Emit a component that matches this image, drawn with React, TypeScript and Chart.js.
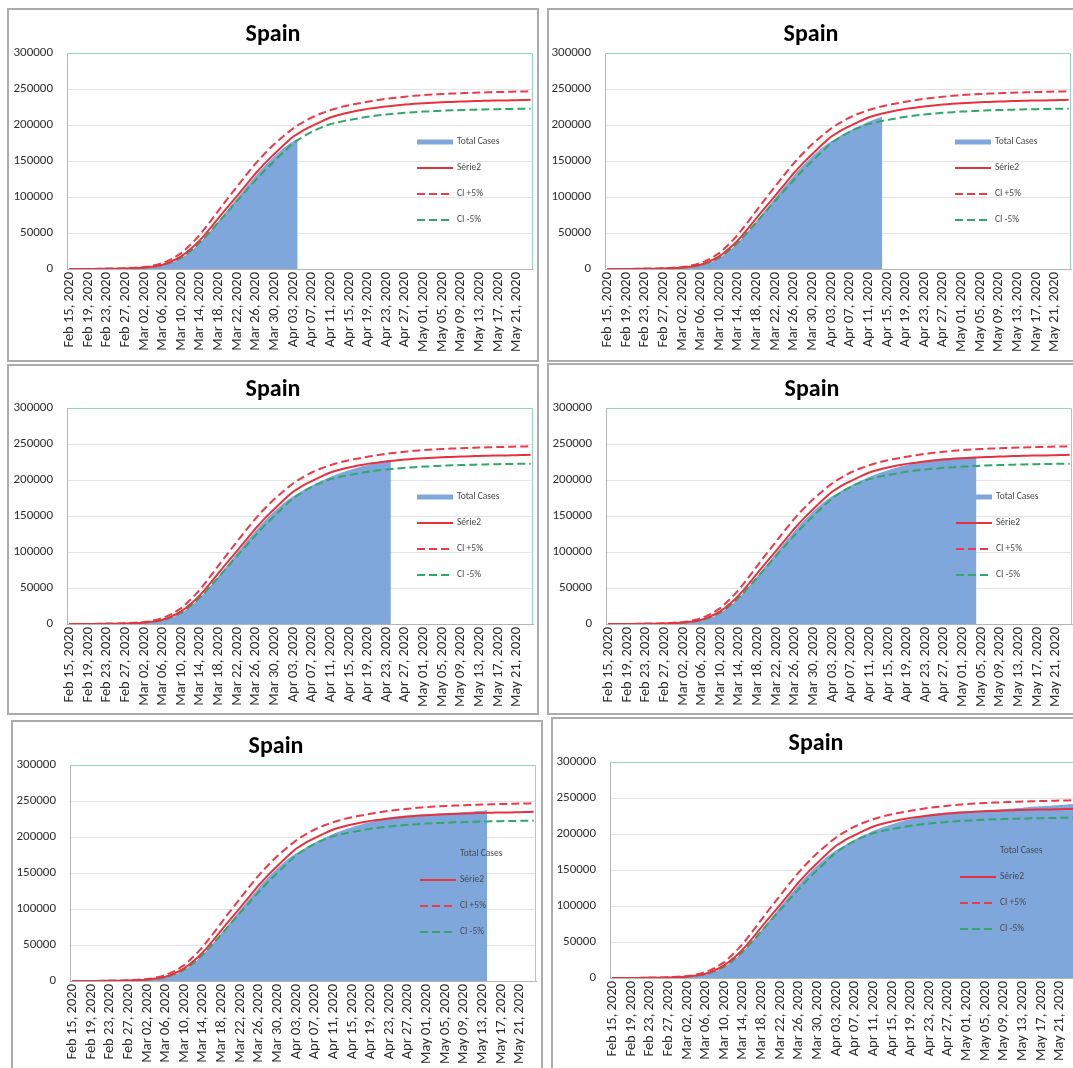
import React, { useEffect, useRef } from "react";
import { Chart, registerables } from "chart.js";

Chart.register(...registerables);

// ---------- data ----------
const MONTHS = ["Jan", "Feb", "Mar", "Apr", "May", "Jun"];
const START_DATE = Date.UTC(2020, 1, 15); // Feb 15, 2020
const DAY_COUNT = 100; // Feb 15 .. May 24, 2020

function buildCategories(): string[] {
  const out: string[] = [];
  for (let i = 0; i < DAY_COUNT; i++) {
    const d = new Date(START_DATE + i * 86400000);
    const dd = String(d.getUTCDate()).padStart(2, "0");
    out.push(`${MONTHS[d.getUTCMonth()]} ${dd}, ${d.getUTCFullYear()}`);
  }
  return out;
}
const categories = buildCategories();

const totalCases = [
  15, 20, 26, 34, 45, 58, 76, 99, 129, 168,
  218, 284, 369, 480, 700, 1100, 1500, 2000, 2700, 3600,
  4800, 6500, 8700, 11500, 15000, 19500, 24500, 30000, 36500, 43500,
  51000, 58500, 66500, 74500, 82500, 90500, 98500, 106500, 114500, 122000,
  129500, 137000, 144000, 150500, 156500, 162500, 168000, 173000, 177500, 181000,
  185000, 188500, 192000, 195500, 198500, 201500, 204500, 207000, 209500, 211500,
  213500, 215500, 217500, 219500, 221000, 222500, 224000, 225500, 227000, 228000,
  228800, 229500, 230000, 230500, 231000, 231300, 231600, 231900, 232200, 232500,
  232900, 233300, 233700, 234100, 234500, 235000, 235500, 236000, 236600, 237200,
  237700, 238100, 238500, 238900, 239300, 239800, 240200, 240700, 241200, 241700,
];

const serie2 = [
  27, 35, 46, 60, 79, 103, 135, 176, 231, 303,
  397, 520, 680, 890, 1170, 1530, 2000, 2650, 3450, 4550,
  6000, 8200, 10800, 13900, 17500, 22300, 27600, 33400, 39700, 47000,
  54700, 62600, 70600, 78500, 86300, 94000, 101500, 109400, 117300, 125200,
  133000, 140200, 147000, 153500, 159700, 166000, 172100, 178000, 183700, 187800,
  191700, 195200, 198400, 201600, 204600, 207600, 210400, 212400, 214200, 215900,
  217400, 218800, 220100, 221300, 222400, 223300, 224100, 224900, 225700, 226400,
  227100, 227800, 228400, 228900, 229400, 229900, 230300, 230700, 231000, 231400,
  231700, 231900, 232100, 232400, 232600, 232800, 233000, 233300, 233500, 233600,
  233700, 233900, 234000, 234100, 234200, 234300, 234400, 234600, 234700, 234900,
];

const ciPlus5 = [
  37, 49, 64, 84, 110, 144, 188, 246, 323, 423,
  554, 725, 950, 1245, 1630, 2140, 2800, 3650, 4800, 6350,
  8300, 11000, 14200, 17900, 22000, 27800, 33900, 40500, 47500, 55700,
  64000, 72500, 81200, 89700, 98000, 106300, 114500, 122800, 131000, 139000,
  146800, 154000, 160800, 167300, 173500, 179300, 184800, 190100, 195200, 199400,
  203300, 207000, 210400, 213300, 215900, 218300, 220600, 222500, 224300, 226000,
  227500, 228800, 230000, 231200, 232300, 233400, 234400, 235400, 236300, 237100,
  237900, 238600, 239300, 239900, 240500, 241000, 241500, 241900, 242300, 242700,
  243000, 243300, 243600, 243900, 244200, 244400, 244700, 244900, 245100, 245300,
  245500, 245600, 245800, 245900, 246100, 246200, 246400, 246500, 246700, 246800,
];

const ciMinus5 = [
  23, 30, 39, 51, 66, 87, 114, 149, 196, 256,
  336, 440, 577, 755, 990, 1300, 1700, 2300, 3000, 4000,
  5200, 7200, 9600, 12400, 15500, 20000, 25000, 30500, 36500, 43300,
  50400, 57600, 65000, 72400, 79800, 87200, 94500, 101900, 109200, 116400,
  123500, 130500, 137300, 143800, 150000, 156300, 162500, 168600, 174500, 179000,
  183100, 187000, 190600, 193600, 196300, 198800, 201200, 202800, 204300, 205700,
  206900, 208100, 209300, 210400, 211400, 212300, 213100, 213900, 214600, 215200,
  215800, 216400, 216900, 217300, 217800, 218200, 218600, 218900, 219300, 219600,
  219900, 220100, 220400, 220600, 220800, 221000, 221200, 221300, 221500, 221600,
  221800, 221900, 222000, 222100, 222200, 222300, 222400, 222500, 222600, 222700,
];

// last observed day shown in each of the six panels (index into categories)
const panelLastIndex = [49, 59, 69, 79, 89, 99];

const chartTitle = "Spain";
const legendLabels = ["Total Cases", "Série2", "CI +5%", "CI -5%"];
const yMin = 0;
const yMax = 300000;
const yStep = 50000;
const labelEvery = 4;

// ---------- styles ----------
const FAMILY = "Carlito, Calibri, Lato, 'DejaVu Sans', sans-serif";
const BLUE = "#7fa7db";
const RED = "#e6323f";
const RED_DASH = "#ec3a4a";
const GREEN = "#2fa86a";
const PLOT_BORDER = "#96d6bd";
const AXIS = "#b5b5b5";
const GRID = "#e3e3e3";
const TXT = "#2e2e2e";

const CANVAS_W = 532;
const CANVAS_H = 354;

const decorPlugin = {
  id: "panelDecor",
  afterDatasetsDraw(chart: any) {
    const { ctx, chartArea } = chart;
    const { left, right, top, bottom } = chartArea;
    ctx.save();
    // plot-area border (top & right, green)
    ctx.strokeStyle = PLOT_BORDER;
    ctx.lineWidth = 1;
    ctx.setLineDash([]);
    ctx.beginPath();
    ctx.moveTo(left, top + 0.5);
    ctx.lineTo(right - 0.5, top + 0.5);
    ctx.lineTo(right - 0.5, bottom);
    ctx.stroke();

    // legend
    const x0 = right - 116;
    const len = 36;
    const y0 = top + 89;
    const gap = 26;
    for (let i = 0; i < legendLabels.length; i++) {
      const y = y0 + i * gap;
      ctx.setLineDash([]);
      if (i === 0) {
        ctx.fillStyle = BLUE;
        ctx.fillRect(x0, y - 2.5, len, 5);
      } else {
        ctx.strokeStyle = i === 1 ? RED : i === 2 ? RED_DASH : GREEN;
        ctx.lineWidth = 2;
        if (i > 1) ctx.setLineDash([8, 4]);
        ctx.beginPath();
        ctx.moveTo(x0, y);
        ctx.lineTo(x0 + len, y);
        ctx.stroke();
      }
      ctx.setLineDash([]);
      ctx.fillStyle = "#4a4a4a";
      ctx.font = `9.5px ${FAMILY}`;
      ctx.textAlign = "left";
      ctx.textBaseline = "middle";
      ctx.fillText(legendLabels[i], x0 + len + 4, y);
    }
    ctx.restore();
  },
  afterDraw(chart: any) {
    const { ctx } = chart;
    ctx.save();
    ctx.fillStyle = "#000";
    ctx.font = `bold 24px ${FAMILY}`;
    ctx.textAlign = "center";
    ctx.textBaseline = "middle";
    ctx.fillText(chartTitle, chart.width / 2, 27);
    ctx.restore();
  },
};

function makeConfig(lastIdx: number): any {
  const area = totalCases.map((v, i) => (i <= lastIdx ? v : null));
  return {
    type: "line",
    data: {
      labels: categories,
      datasets: [
        {
          label: legendLabels[1],
          data: serie2,
          borderColor: RED,
          borderWidth: 2,
          pointRadius: 0,
          fill: false,
          tension: 0,
          order: 0,
        },
        {
          label: legendLabels[2],
          data: ciPlus5,
          borderColor: RED_DASH,
          borderWidth: 2,
          borderDash: [8, 4],
          pointRadius: 0,
          fill: false,
          tension: 0,
          order: 1,
        },
        {
          label: legendLabels[3],
          data: ciMinus5,
          borderColor: GREEN,
          borderWidth: 2,
          borderDash: [8, 4],
          pointRadius: 0,
          fill: false,
          tension: 0,
          order: 2,
        },
        {
          label: legendLabels[0],
          data: area,
          borderColor: "rgba(0,0,0,0)",
          borderWidth: 0,
          backgroundColor: BLUE,
          pointRadius: 0,
          fill: "origin",
          spanGaps: false,
          tension: 0,
          order: 3,
        },
      ],
    },
    options: {
      animation: false,
      responsive: false,
      maintainAspectRatio: false,
      events: [],
      layout: { padding: { left: 0, top: 45, right: 6, bottom: 0 } },
      plugins: {
        legend: { display: false },
        title: { display: false },
        tooltip: { enabled: false },
      },
      scales: {
        x: {
          type: "category",
          offset: true,
          grid: { display: false, drawTicks: false },
          border: { display: true, color: AXIS, width: 1 },
          ticks: {
            autoSkip: false,
            minRotation: 90,
            maxRotation: 90,
            padding: 3,
            color: TXT,
            font: { family: FAMILY, size: 14.5 },
            callback: function (this: any, val: any, idx: number) {
              return idx % labelEvery === 0 ? this.getLabelForValue(val) : "";
            },
          },
          afterFit: (s: any) => {
            s.height = 93;
            s.paddingLeft = 0;
            s.paddingRight = 0;
          },
        },
        y: {
          min: yMin,
          max: yMax,
          grid: { color: GRID, drawTicks: false, lineWidth: 1 },
          border: { display: true, color: AXIS, width: 1 },
          ticks: {
            stepSize: yStep,
            padding: 14,
            color: TXT,
            font: { family: FAMILY, size: 13 },
            callback: (v: any) => String(v),
          },
          afterFit: (s: any) => {
            s.width = 60;
            s.paddingTop = 0;
            s.paddingBottom = 0;
          },
        },
      },
    },
    plugins: [decorPlugin],
  };
}

type PanelProps = {
  lastIdx: number;
  canvasLeft: number;
  canvasTop: number;
  box: [number, number, number, number];
};

function Panel({ lastIdx, canvasLeft, canvasTop, box }: PanelProps) {
  const ref = useRef<HTMLCanvasElement | null>(null);
  useEffect(() => {
    if (!ref.current) return;
    const chart = new Chart(ref.current, makeConfig(lastIdx));
    return () => chart.destroy();
  }, [lastIdx]);
  return (
    <>
      <div
        style={{
          position: "absolute",
          left: box[0],
          top: box[1],
          width: box[2],
          height: box[3],
          border: "2px solid #ababab",
          boxSizing: "border-box",
          background: "#fff",
        }}
      />
      <canvas
        ref={ref}
        width={CANVAS_W}
        height={CANVAS_H}
        style={{
          position: "absolute",
          left: canvasLeft,
          top: canvasTop,
          width: CANVAS_W,
          height: CANVAS_H,
        }}
      />
    </>
  );
}

const panels: PanelProps[] = [
  { lastIdx: panelLastIndex[0], canvasLeft: 7, canvasTop: 8, box: [7, 8, 532, 354] },
  { lastIdx: panelLastIndex[1], canvasLeft: 545, canvasTop: 8, box: [547, 8, 540, 354] },
  { lastIdx: panelLastIndex[2], canvasLeft: 7, canvasTop: 363, box: [7, 364, 532, 351] },
  { lastIdx: panelLastIndex[3], canvasLeft: 546, canvasTop: 363, box: [547, 363, 540, 352] },
  { lastIdx: panelLastIndex[4], canvasLeft: 10, canvasTop: 720, box: [11, 720, 532, 360] },
  { lastIdx: panelLastIndex[5], canvasLeft: 550, canvasTop: 717, box: [551, 717, 540, 360] },
];

export default function App() {
  return (
    <div
      style={{
        position: "absolute",
        left: 0,
        top: 0,
        width: 1073,
        height: 1068,
        overflow: "hidden",
        background: "#fff",
      }}
    >
      {panels.map((p, i) => (
        <Panel key={i} {...p} />
      ))}
    </div>
  );
}
